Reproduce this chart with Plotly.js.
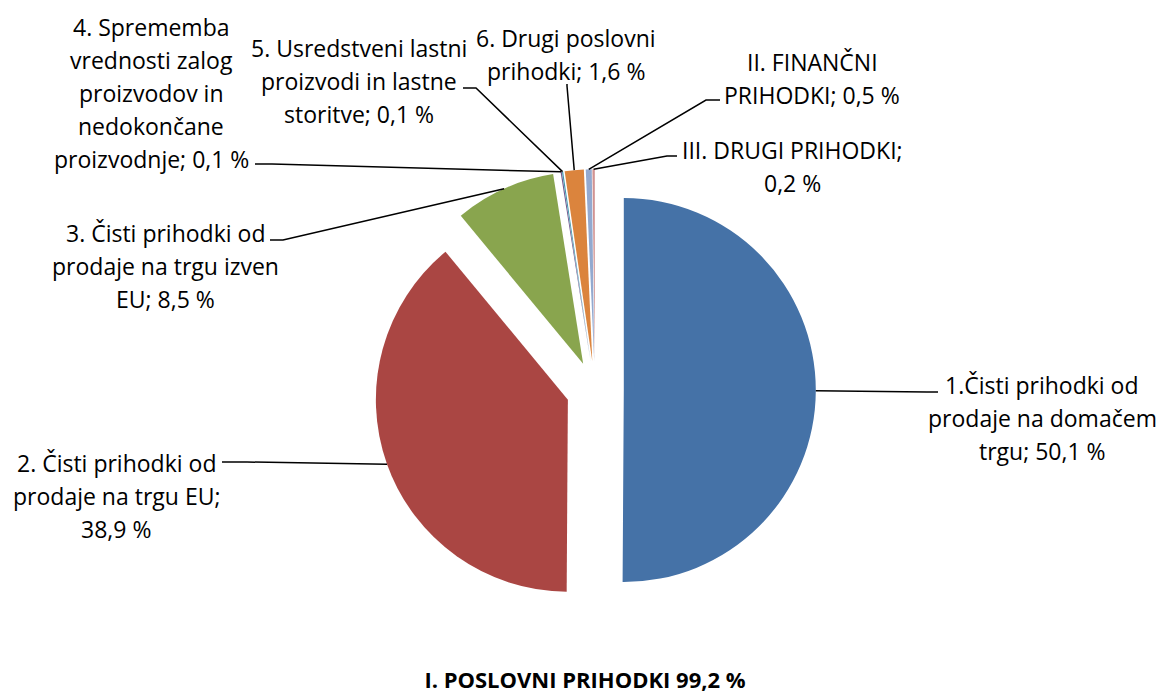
<!DOCTYPE html>
<html><head><meta charset="utf-8">
<script src="https://cdn.plot.ly/plotly-3.0.1.min.js"></script>
<style>html,body{margin:0;padding:0;background:#fff}#chart{width:1159px;height:693px}</style>
</head><body><div id="chart"></div>
<script>
// ---- data ----
const categories = [
  '1.Čisti prihodki od prodaje na domačem trgu',
  '2. Čisti prihodki od prodaje na trgu EU',
  '3. Čisti prihodki od prodaje na trgu izven EU',
  '4. Sprememba vrednosti zalog proizvodov in nedokončane proizvodnje',
  '5. Usredstveni lastni proizvodi in lastne storitve',
  '6. Drugi poslovni prihodki',
  'II. FINANČNI PRIHODKI',
  'III. DRUGI PRIHODKI'
];
const values = [50.1, 38.9, 8.5, 0.1, 0.1, 1.6, 0.5, 0.2];
const colors = ['#4572A7','#AA4643','#89A54E','#71588F','#4198AF','#DB843D','#93A9CF','#D19392'];
const titleText = 'I. POSLOVNI PRIHODKI 99,2 %';
// words per line when wrapping each label
const lineWordCounts = [[3,3,3],[4,4,2],[4,4,3],[2,2,2,1,3],[3,3,3],[3,3],[2,3],[3,2]];

// ---- label placement (pixels) ----
const labelPlace = [
  {cx:1042, y0:385, end:[938,392], elbow:[927,392]},
  {cx:116,  y0:463, end:[222,462], elbow:[247,462]},
  {cx:165,  y0:233, end:[270,240], elbow:[283,240]},
  {cx:151,  y0:27,  end:[255,164], elbow:[272,164]},
  {cx:359,  y0:48,  end:[463,88],  elbow:[476,88]},
  {cx:566,  y0:38,  end:[567,84],  elbow:[567,86]},
  {cx:812,  y0:62,  end:[720,100], elbow:[706,100]},
  {cx:792,  y0:150, end:[677,156], elbow:[667,156]}
];
const LINE_H = 33;

const W = 1159, H = 693;
const PIE_CX = 595, PIE_CY = 390, PIE_R = 192, PULL = 0.15;
const half = PIE_R * (1 + PULL);

const fmt = v => v.toFixed(1).replace('.', ',') + ' %';
const FONT = '"Open Sans", Lato, sans-serif';

const trace = {
  type: 'pie',
  labels: categories,
  values: values,
  sort: false,
  direction: 'clockwise',
  rotation: 0,
  pull: values.map(() => PULL),
  marker: {colors: colors, line: {width: 0}},
  textinfo: 'none',
  hoverinfo: 'label+percent',
  showlegend: false,
  domain: {
    x: [(PIE_CX - half) / W, (PIE_CX + half) / W],
    y: [1 - (PIE_CY + half) / H, 1 - (PIE_CY - half) / H]
  }
};

const total = values.reduce((a, b) => a + b, 0);
const annotations = [];
const shapes = [];
let cum = 0;
values.forEach((v, i) => {
  const f = (cum + v / 2) / total;
  cum += v;
  const th = 2 * Math.PI * f;
  const R = PIE_R * (1 + PULL);
  const px = PIE_CX + R * Math.sin(th);
  const py = PIE_CY - R * Math.cos(th);
  const p = labelPlace[i];
  const X = x => x / W, Y = y => 1 - y / H;
  shapes.push({
    type: 'path', xref: 'paper', yref: 'paper',
    path: `M ${X(p.end[0])},${Y(p.end[1])} L ${X(p.elbow[0])},${Y(p.elbow[1])} L ${X(px)},${Y(py)}`,
    line: {color: '#000', width: 1.5}
  });
  const words = (categories[i] + '; ' + fmt(v)).split(' ');
  let k = 0;
  lineWordCounts[i].forEach((n, li) => {
    const line = words.slice(k, k + n).join(' ');
    k += n;
    annotations.push({
      xref: 'paper', yref: 'paper', x: X(p.cx), y: Y(p.y0 + li * LINE_H),
      xanchor: 'center', yanchor: 'middle', showarrow: false,
      text: line, font: {family: FONT, size: 23, color: '#000'}
    });
  });
});

const layout = {
  width: W, height: H,
  margin: {l: 0, r: 0, t: 0, b: 0},
  paper_bgcolor: '#fff',
  title: {
    text: '<b>' + titleText + '</b>',
    x: 585 / W, xanchor: 'center', y: 1 - 680 / H, yanchor: 'middle',
    font: {family: FONT, size: 22, color: '#000'}
  },
  annotations: annotations,
  shapes: shapes
};

Plotly.newPlot('chart', [trace], layout, {displayModeBar: false});
</script></body></html>
